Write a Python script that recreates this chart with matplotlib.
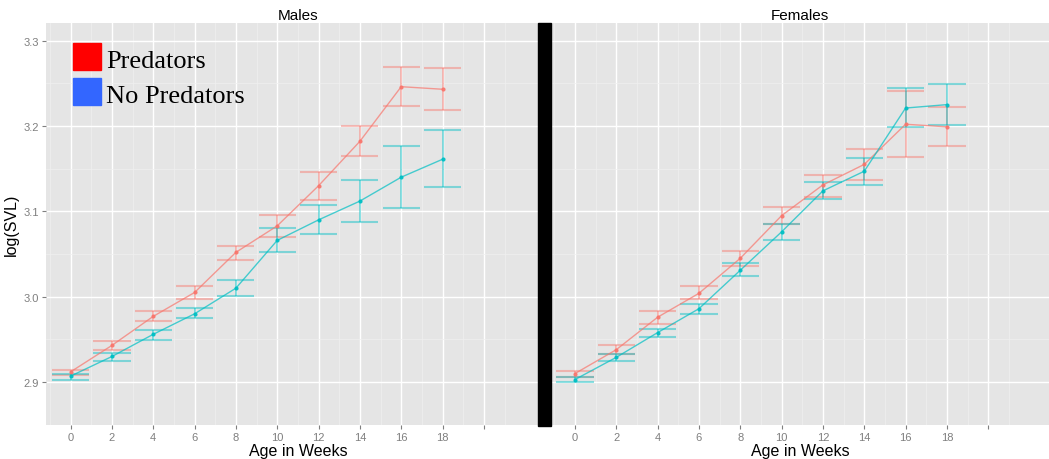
import matplotlib
matplotlib.use("Agg")
import matplotlib.pyplot as plt
from matplotlib.patches import Rectangle

plt.rcParams['font.family'] = ['Liberation Sans', 'DejaVu Sans']

# semanas de idade
weeks = [0, 2, 4, 6, 8, 10, 12, 14, 16, 18]

# machos - com predadores
m_pred = [2.912, 2.943, 2.977, 3.005, 3.052, 3.083, 3.130, 3.182, 3.246, 3.243]
m_pred_hi = [2.914, 2.948, 2.983, 3.013, 3.060, 3.096, 3.146, 3.200, 3.269, 3.268]
m_pred_lo = [2.908, 2.938, 2.971, 2.997, 3.043, 3.070, 3.113, 3.165, 3.223, 3.219]
# machos - sem predadores
m_nopred = [2.907, 2.930, 2.956, 2.980, 3.010, 3.066, 3.090, 3.112, 3.140, 3.161]
m_nopred_hi = [2.910, 2.934, 2.961, 2.987, 3.020, 3.080, 3.107, 3.137, 3.176, 3.195]
m_nopred_lo = [2.903, 2.925, 2.949, 2.975, 3.001, 3.052, 3.073, 3.087, 3.104, 3.128]

# femeas - com predadores
f_pred = [2.910, 2.938, 2.976, 3.004, 3.045, 3.095, 3.131, 3.155, 3.202, 3.199]
f_pred_hi = [2.913, 2.943, 2.983, 3.013, 3.053, 3.105, 3.143, 3.173, 3.241, 3.222]
f_pred_lo = [2.906, 2.933, 2.968, 2.997, 3.036, 3.085, 3.117, 3.137, 3.164, 3.176]
# femeas - sem predadores
f_nopred = [2.903, 2.929, 2.958, 2.986, 3.031, 3.076, 3.124, 3.147, 3.221, 3.225]
f_nopred_hi = [2.906, 2.933, 2.962, 2.991, 3.040, 3.085, 3.134, 3.163, 3.244, 3.249]
f_nopred_lo = [2.900, 2.925, 2.953, 2.980, 3.024, 3.067, 3.114, 3.131, 3.199, 3.201]

xtick_pos = [0, 2, 4, 6, 8, 10, 12, 14, 16, 18, 20]
xtick_labels = ['0', '2', '4', '6', '8', '10', '12', '14', '16', '18', '']
ytick_pos = [2.9, 3.0, 3.1, 3.2, 3.3]
ytick_labels = ['2.9', '3.0', '3.1', '3.2', '3.3']

RED = '#F8766D'
TEAL = '#00BFC4'
W, H = 1049, 460


def serie(ax, x, media, hi, lo, cor):
    half = 0.9
    ax.vlines(x, lo, hi, color=cor, lw=1.3, alpha=0.5, zorder=3)
    for xi, a, b in zip(x, hi, lo):
        ax.hlines([a, b], xi - half, xi + half, color=cor, lw=1.5, alpha=0.45, zorder=3)
    ax.plot(x, media, color=cor, lw=1.0, alpha=0.7, zorder=4)
    ax.plot(x, media, 'o', color=cor, ms=2.0, alpha=0.9, zorder=5)


def painel(ax, titulo, xlim):
    ax.set_facecolor('#E5E5E5')
    ax.set_xlim(*xlim)
    ax.set_ylim(2.869, 3.3206)
    ax.set_xticks(xtick_pos)
    ax.set_xticklabels(xtick_labels)
    ax.set_xticks([-1, 1, 3, 5, 7, 9, 11, 13, 15, 17, 19, 21], minor=True)
    ax.set_yticks(ytick_pos)
    ax.set_yticklabels(ytick_labels)
    ax.set_yticks([2.85, 2.95, 3.05, 3.15, 3.25], minor=True)
    ax.grid(which='major', color='white', lw=1.0)
    ax.grid(which='minor', color='#F0F0F0', lw=0.5)
    ax.set_axisbelow(True)
    for s in ax.spines.values():
        s.set_visible(False)
    ax.tick_params(which='major', length=3, color='#7F7F7F', labelcolor='#7F7F7F',
                   labelsize=8, pad=2)
    ax.tick_params(which='minor', length=0)
    ax.set_title(titulo, fontsize=11, pad=3)
    ax.set_xlabel('Age in Weeks', fontsize=11.5, labelpad=1)


fig = plt.figure(figsize=(W / 100, H / 100), dpi=100)
bottom = 1 - 425.8 / H
height = (425.8 - 24) / H

ax1 = fig.add_axes([45.7 / W, bottom, (551 - 45.7) / W, height])
painel(ax1, 'Males', (-1.205, 23.25))
ax1.set_ylabel('log(SVL)', fontsize=11.5, labelpad=3)
serie(ax1, weeks, m_pred, m_pred_hi, m_pred_lo, RED)
serie(ax1, weeks, m_nopred, m_nopred_hi, m_nopred_lo, TEAL)

ax2 = fig.add_axes([551.4 / W, bottom, (W - 551.4) / W, height])
painel(ax2, 'Females', (-1.14, 22.94))
ax2.set_yticklabels([])
ax2.tick_params(axis='y', length=0)
serie(ax2, weeks, f_pred, f_pred_hi, f_pred_lo, RED)
serie(ax2, weeks, f_nopred, f_nopred_hi, f_nopred_lo, TEAL)

# barra preta entre os paineis
fig.patches.append(Rectangle((537.9 / W, 1 - 427 / H), 13.5 / W, 403 / H,
                             transform=fig.transFigure, color='black', zorder=10))

# legenda manual
leg = [('Predators', '#FF0000', 43.7), ('No Predators', '#3366FF', 78.7)]
for nome, cor, topo in leg:
    fig.patches.append(Rectangle((73.3 / W, 1 - (topo + 27) / H), 27.4 / W, 27 / H,
                                 transform=fig.transFigure, color=cor, zorder=10))
    fig.text(106 / W, 1 - (topo + 24.5) / H, nome, fontsize=19,
             family=['Liberation Serif', 'DejaVu Serif'], va='baseline', zorder=11)

fig.savefig('out.png', dpi=100)
